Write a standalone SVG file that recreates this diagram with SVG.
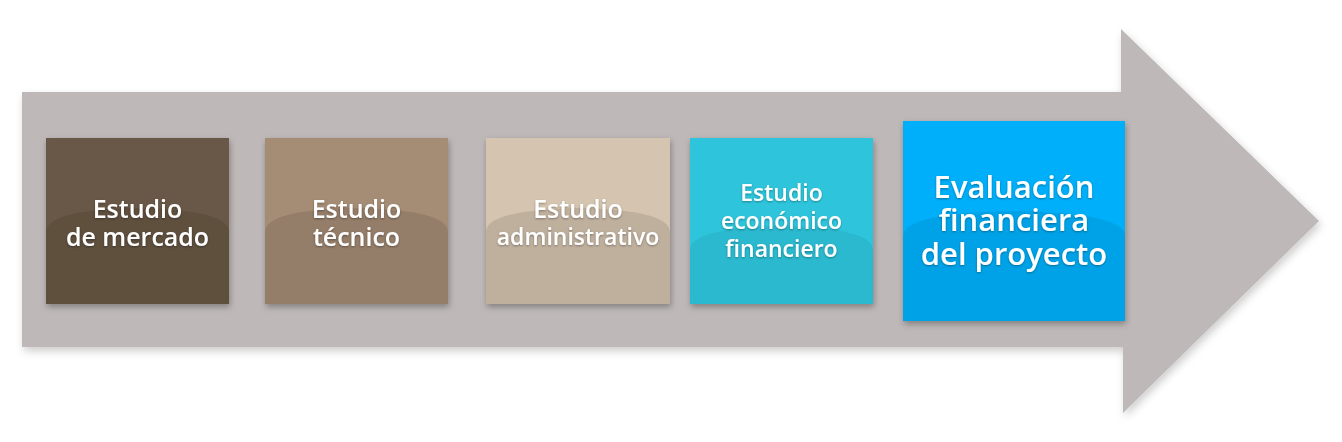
<svg xmlns="http://www.w3.org/2000/svg" width="1342" height="442" viewBox="0 0 1342 442">
<defs>
<filter id="sh" x="-20%" y="-20%" width="140%" height="140%">
<feDropShadow dx="1" dy="3" stdDeviation="3" flood-color="#000" flood-opacity="0.3"/>
</filter>
<filter id="ash" x="-5%" y="-10%" width="110%" height="120%">
<feDropShadow dx="2" dy="4" stdDeviation="4" flood-color="#000" flood-opacity="0.2"/>
</filter>
<filter id="tsh" x="-10%" y="-20%" width="120%" height="140%">
<feDropShadow dx="0" dy="1" stdDeviation="1.2" flood-color="#000" flood-opacity="0.35"/>
</filter>
</defs>
<style>
.t{font-family:"Open Sans","Liberation Sans",sans-serif;font-weight:600;fill:#fff;text-anchor:middle;filter:url(#tsh)}
.s{font-size:25px}
.m{font-size:23px}
.l{font-size:31px}
.dome{fill:#000;opacity:0.1}
</style>
<rect width="1342" height="442" fill="#fff"/>
<g id="arrow">
<path d="M22 92 H1121 V29 L1319 221 L1123 413 V347 H22 Z" fill="#beb8b8" filter="url(#ash)"/>
</g>
<g id="n1" filter="url(#sh)">
<rect x="46" y="138" width="183" height="166" fill="#695846"/>
<path d="M46 232 Q46 210 137 208 Q229 210 229 232 V304 H46 Z" class="dome"/>
<text class="t s"><tspan x="137.5" y="218">Estudio</tspan><tspan x="137.5" y="246">de mercado</tspan></text>
</g>
<g id="n2" filter="url(#sh)">
<rect x="265" y="138" width="183" height="166" fill="#a58c75"/>
<path d="M265 232 Q265 210 356 208 Q448 210 448 232 V304 H265 Z" class="dome"/>
<text class="t s"><tspan x="356.5" y="218">Estudio</tspan><tspan x="356.5" y="246">técnico</tspan></text>
</g>
<g id="n3" filter="url(#sh)">
<rect x="486" y="138" width="184" height="166" fill="#d5c5b0"/>
<path d="M486 232 Q486 210 578 208 Q670 210 670 232 V304 H486 Z" class="dome"/>
<text class="t"><tspan class="s" x="578" y="218">Estudio</tspan><tspan class="m" x="578" y="245">administrativo</tspan></text>
</g>
<g id="n4" filter="url(#sh)">
<rect x="690" y="138" width="183" height="166" fill="#2ec5dc"/>
<path d="M690 250 Q690 228 781 226 Q873 228 873 250 V304 H690 Z" class="dome" style="opacity:0.06"/>
<text class="t m"><tspan x="781.5" y="201">Estudio</tspan><tspan x="781.5" y="229">económico</tspan><tspan x="781.5" y="257">financiero</tspan></text>
</g>
<g id="n5" filter="url(#sh)">
<rect x="903" y="121" width="222" height="200" fill="#00aff9"/>
<path d="M903 236 Q903 213 1014 211 Q1125 213 1125 236 V321 H903 Z" class="dome" style="opacity:0.07"/>
<text class="t l"><tspan x="1014" y="198">Evaluación</tspan><tspan x="1014" y="231">financiera</tspan><tspan x="1014" y="265">del proyecto</tspan></text>
</g>
</svg>
